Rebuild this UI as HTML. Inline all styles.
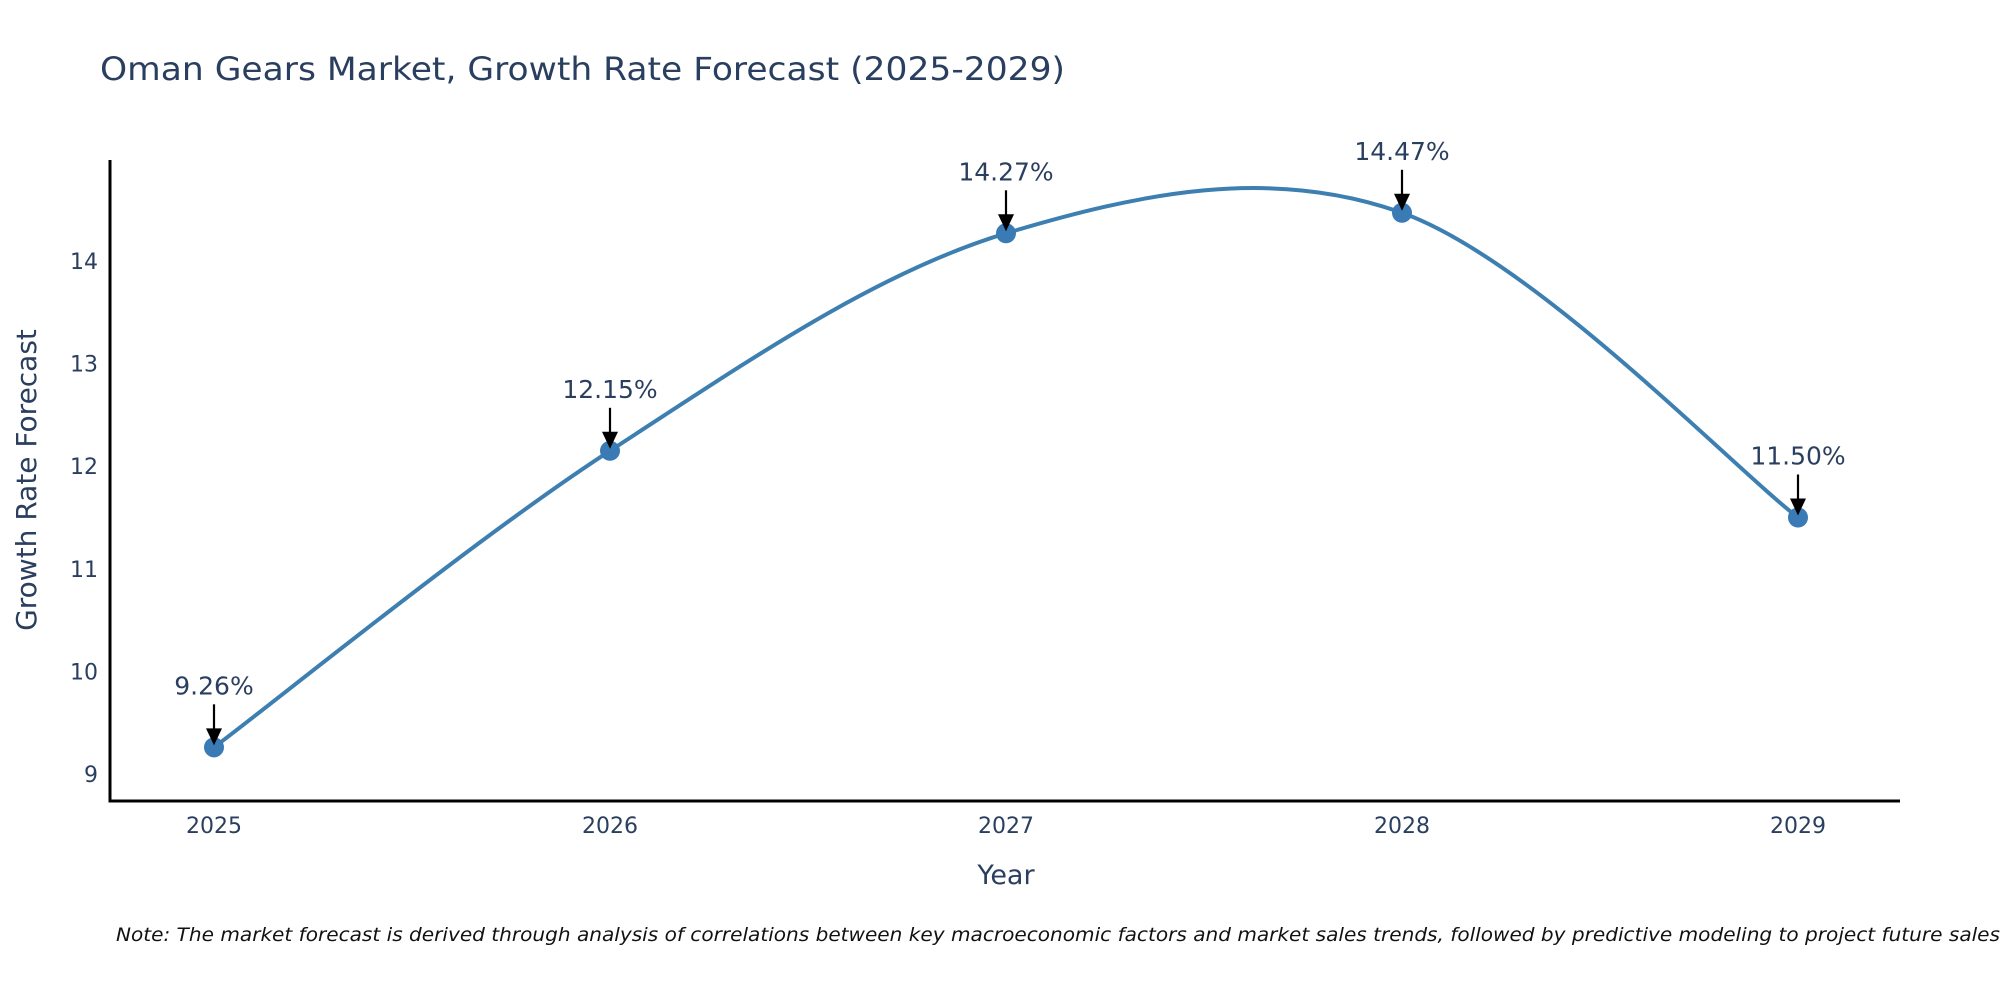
<!DOCTYPE html>
<html><head><meta charset="utf-8"><style>
html,body{margin:0;padding:0;background:#fff;width:2000px;height:1000px;overflow:hidden}
svg text{font-family:"DejaVu Sans","Liberation Sans",sans-serif;fill:#2a3f5f}
</style></head><body>
<svg id="chart" width="2000" height="1000" viewBox="0 0 2000 1000" xmlns="http://www.w3.org/2000/svg">
<text x="100" y="80" font-size="32" textLength="965" lengthAdjust="spacingAndGlyphs">Oman Gears Market, Growth Rate Forecast (2025-2029)</text>
<g id="axes"></g>
<g id="series"></g>
<g id="annotations"></g>
<text transform="translate(36,480) rotate(-90)" text-anchor="middle" font-size="28">Growth Rate Forecast</text>
<text x="1006" y="884" text-anchor="middle" font-size="27">Year</text>
<text x="116" y="941" font-size="19" font-style="italic" style="fill:#111" textLength="1884" lengthAdjust="spacingAndGlyphs">Note: The market forecast is derived through analysis of correlations between key macroeconomic factors and market sales trends, followed by predictive modeling to project future sales</text>
</svg>
<script>
const years = [2025, 2026, 2027, 2028, 2029];
const growthValues = [9.26, 12.15, 14.27, 14.47, 11.50];
const valueLabels = ["9.26%", "12.15%", "14.27%", "14.47%", "11.50%"];
const yTicks = [9, 10, 11, 12, 13, 14];

const NS = "http://www.w3.org/2000/svg";
const X0 = 110, X1 = 1900, Y0 = 801, Y1 = 160;
function xScale(yr){ return 214 + (yr - 2025) * 396; }
function yScale(v){ return 774 - (v - 9) * 102.6; }
function mk(tag, attrs, parent){
  const e = document.createElementNS(NS, tag);
  for (const k in attrs) e.setAttribute(k, attrs[k]);
  parent.appendChild(e);
  return e;
}
const axes = document.getElementById('axes');
let l = mk('line', {x1:X0, y1:Y1, x2:X0, y2:Y0+1.5, stroke:'#000', 'stroke-width':3}, axes);


l = mk('line', {x1:X0-1.5, y1:Y0, x2:X1, y2:Y0, stroke:'#000', 'stroke-width':3}, axes);


yTicks.forEach(t => {
  const e = mk('text', {x:X0-12, y:yScale(t)+8, 'text-anchor':'end', 'font-size':22}, axes);
  e.textContent = t;
  
  
});
years.forEach(yr => {
  const e = mk('text', {x:xScale(yr), y:833, 'text-anchor':'middle', 'font-size':22}, axes);
  e.textContent = yr;
  
  
});
const pts = years.map((yr,i)=>[xScale(yr), yScale(growthValues[i])]);
let d = 'M' + pts[0][0] + ',' + pts[0][1];
for (let i=0;i<pts.length-1;i++){
  const p0 = pts[Math.max(0,i-1)], p1 = pts[i], p2 = pts[i+1], p3 = pts[Math.min(pts.length-1,i+2)];
  const c1 = [p1[0]+(p2[0]-p0[0])/6, p1[1]+(p2[1]-p0[1])/6];
  const c2 = [p2[0]-(p3[0]-p1[0])/6, p2[1]-(p3[1]-p1[1])/6];
  d += ' C'+c1[0]+','+c1[1]+' '+c2[0]+','+c2[1]+' '+p2[0]+','+p2[1];
}
const series = document.getElementById('series');
const path = mk('path', {d:d, fill:'none', stroke:'#3d7fb0', 'stroke-width':4}, series);


pts.forEach(p => {
  const c = mk('circle', {cx:p[0], cy:p[1], r:10, fill:'#3a7bb5'}, series);
  
  
});
const ann = document.getElementById('annotations');
pts.forEach((p,i) => {
  const ln = mk('line', {x1:p[0], y1:p[1]-43, x2:p[0], y2:p[1]-14, stroke:'#000', 'stroke-width':2.2}, ann);
  
  
  const hd = mk('polygon', {points:(p[0]-8)+','+(p[1]-19)+' '+(p[0]+8)+','+(p[1]-19)+' '+p[0]+','+(p[1]-2), fill:'#000'}, ann);
  
  
  const t = mk('text', {x:p[0], y:p[1]-53, 'text-anchor':'middle', 'font-size':25}, ann);
  t.textContent = valueLabels[i];
  
  
});
</script>
</body></html>
